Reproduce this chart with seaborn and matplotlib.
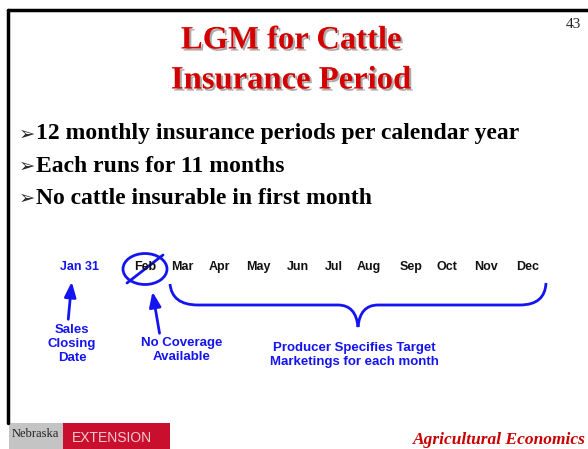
import numpy as np
import matplotlib
matplotlib.use("Agg")
import matplotlib.pyplot as plt
import matplotlib.patheffects as pe
from matplotlib.path import Path
from matplotlib.patches import PathPatch, Ellipse, Rectangle, FancyArrowPatch
import seaborn as sns

# ------------------------------------------Slide content--------------------------------------------------- #
title_lines = ["LGM for Cattle", "Insurance Period"]
slide_number = "43"
bullets = [
    "12 monthly insurance periods per calendar year",
    "Each runs for 11 months",
    "No cattle insurable in first month",
]
closing_label = "Jan 31"
months = ["Feb", "Mar", "Apr", "May", "Jun", "Jul", "Aug", "Sep", "Oct", "Nov", "Dec"]
closing_note = "Sales\nClosing\nDate"
no_cover_note = "No Coverage\nAvailable"
producer_note = "Producer Specifies Target\nMarketings for each month"
footer_right = "Agricultural Economics"

# layout (pixel positions on the 588x449 slide)
month_x = [145, 182, 219, 258, 298, 334, 369, 411, 447, 486, 528]
month_y = 267
blue = "#1414F0"
red = "#D40000"

sns.set_style("white")
plt.rcParams["font.family"] = ["Liberation Serif", "DejaVu Sans"]

fig = plt.figure(figsize=(5.88, 4.49), dpi=100)
ax = fig.add_axes([0, 0, 1, 1])
ax.set_xlim(0, 588)
ax.set_ylim(449, 0)
ax.axis("off")

# slide frame
ax.plot([8, 588], [10, 10], color="black", lw=2.5)
ax.plot([8, 8], [10, 423], color="black", lw=2.5)

# title with shadow
shadow = [pe.SimplePatchShadow(offset=(1.5, -1.5), shadow_rgbFace="#888888", alpha=0.7), pe.Normal()]
for i, line in enumerate(title_lines):
    ax.text(291, 40 + i * 40, line, ha="center", va="center", color=red,
            fontsize=23.5, fontweight="bold", family="Liberation Serif", path_effects=shadow)
ax.text(573, 24, slide_number, ha="center", va="center", fontsize=11, family="Liberation Serif")

# bullets
for i, b in enumerate(bullets):
    y = 134 + i * 32
    ax.text(19, y, "\u27a2", ha="left", va="center", fontsize=14, family="DejaVu Sans")
    ax.text(36, y, b, ha="left", va="center", fontsize=17, fontweight="bold",
            family="Liberation Serif", color="black")

# months row
ax.text(79, month_y, closing_label, ha="center", va="center", color=blue,
        fontsize=9, fontweight="bold", family="Liberation Sans")
for m, x in zip(months, month_x):
    ax.text(x, month_y, m, ha="center", va="center", color="#111111",
            fontsize=9, fontweight="bold", family="Liberation Sans")

# crossed-out circle around Feb
ax.add_patch(Ellipse((145, 269), 44, 31, fill=False, ec=blue, lw=2))
ax.plot([127, 163], [283, 255], color=blue, lw=2)

# arrows
ax.add_patch(FancyArrowPatch((68, 322), (72, 279), arrowstyle="-|>,head_length=0.9,head_width=0.35",
                             mutation_scale=10, color=blue, lw=2))
ax.add_patch(FancyArrowPatch((160, 336), (152, 289), arrowstyle="-|>,head_length=0.9,head_width=0.35",
                             mutation_scale=10, color=blue, lw=2))

# notes
note_kw = dict(ha="center", va="center", color=blue, fontsize=9.5, fontweight="bold",
               family="Liberation Sans", linespacing=1.2)
ax.text(72, 344, closing_note, **note_kw)
ax.text(182, 350, no_cover_note, **note_kw)
ax.text(354, 355, producer_note, **note_kw)

# curly brace under Mar..Dec
verts = [(170, 284), (172, 305), (198, 305),
         (338, 305),
         (356, 305), (358, 327),
         (360, 305), (378, 305),
         (520, 305),
         (545, 305), (546, 283)]
codes = [Path.MOVETO, Path.CURVE3, Path.CURVE3,
         Path.LINETO,
         Path.CURVE3, Path.CURVE3,
         Path.CURVE3, Path.CURVE3,
         Path.LINETO,
         Path.CURVE3, Path.CURVE3]
ax.add_patch(PathPatch(Path(verts, codes), fill=False, ec=blue, lw=2))

# footer logo
ax.add_patch(Rectangle((9, 423), 54, 26, color="#C4C4C4", lw=0))
ax.add_patch(Rectangle((63, 423), 107, 26, color="#C8102E", lw=0))
ax.text(12, 434, "Nebraska", ha="left", va="center", fontsize=9, color="#222222",
        family="Liberation Serif")
ax.text(72, 438, "EXTENSION", ha="left", va="center", fontsize=10, color="#F4C9CF",
        family=["Liberation Sans Narrow", "Liberation Sans"])
ax.text(586, 440, footer_right, ha="right", va="center", fontsize=12.5, color="#C80000",
        fontweight="bold", style="italic", family="Liberation Serif")

fig.savefig("out.png", dpi=100)
